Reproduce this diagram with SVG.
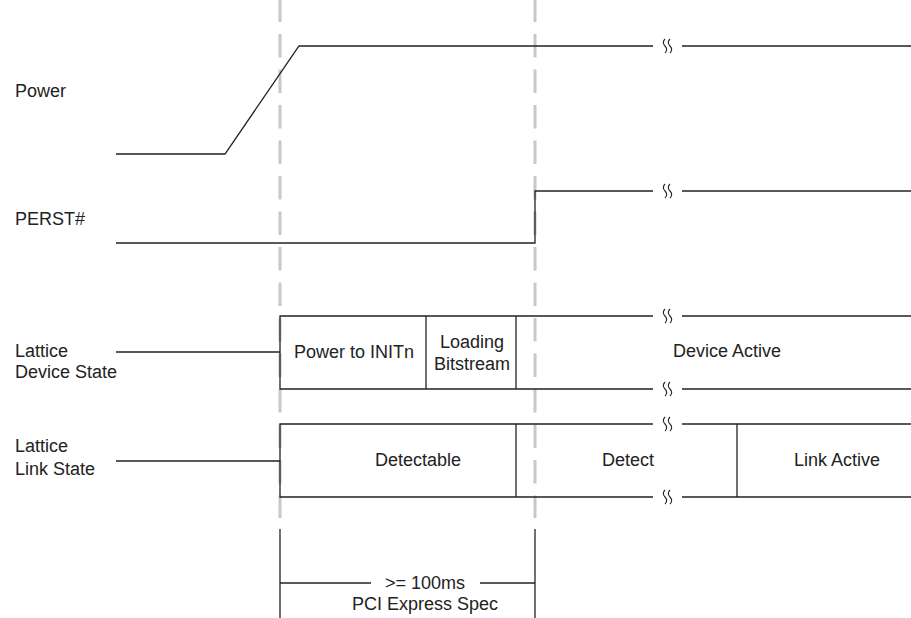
<svg xmlns="http://www.w3.org/2000/svg" width="911" height="618" viewBox="0 0 911 618">
<defs>
<style>
.ln{stroke:#222;stroke-width:1.3;fill:none}
.dash{stroke:#c8c8c8;stroke-width:3;stroke-dasharray:23.5 12;fill:none}
.sq{stroke:#222;stroke-width:1.1;fill:none}
text{font-family:"Liberation Sans",Arial,Helvetica,sans-serif;font-size:18px;fill:#222}
.c{text-anchor:middle}
</style>
<g id="brk">
<path class="sq" d="M-2.5,-7 c-2.2,2.3 -2.2,4.7 0,7 c2.2,2.3 2.2,4.7 0,7"/>
<path class="sq" d="M2.5,-7 c-2.2,2.3 -2.2,4.7 0,7 c2.2,2.3 2.2,4.7 0,7"/>
</g>
</defs>
<rect width="911" height="618" fill="#fff"/>
<g id="guides">
<line class="dash" x1="280" y1="-1.5" x2="280" y2="518"/>
<line class="dash" x1="535" y1="-1.5" x2="535" y2="518"/>
</g>
<g id="connectors">
<polyline class="ln" points="116,154 225,154 299,46 653,46"/>
<line class="ln" x1="682" y1="46" x2="911" y2="46"/>
<polyline class="ln" points="116,243 535,243 535,191 653,191"/>
<line class="ln" x1="682" y1="191" x2="911" y2="191"/>
<line class="ln" x1="116" y1="352" x2="280" y2="352"/>
<line class="ln" x1="116" y1="461" x2="280" y2="461"/>
</g>
<g id="power">
<text x="15" y="97">Power</text>
<use href="#brk" x="667.5" y="46"/>
</g>
<g id="perst">
<text x="15" y="225">PERST#</text>
<use href="#brk" x="667.5" y="191"/>
</g>
<g id="device-state">
<text x="15" y="357">Lattice</text>
<text x="15" y="378">Device State</text>
<polyline class="ln" points="653,316 280,316 280,389 653,389"/>
<line class="ln" x1="682" y1="316" x2="911" y2="316"/>
<line class="ln" x1="682" y1="389" x2="911" y2="389"/>
<line class="ln" x1="426" y1="316" x2="426" y2="389"/>
<line class="ln" x1="516" y1="316" x2="516" y2="389"/>
<use href="#brk" x="667.5" y="316"/>
<use href="#brk" x="667.5" y="389"/>
<text class="c" x="354" y="358">Power to INITn</text>
<text class="c" x="472" y="348">Loading</text>
<text class="c" x="472" y="370">Bitstream</text>
<text class="c" x="727" y="357">Device Active</text>
</g>
<g id="link-state">
<text x="15" y="452">Lattice</text>
<text x="15" y="475">Link State</text>
<polyline class="ln" points="653,424 280,424 280,497 653,497"/>
<line class="ln" x1="682" y1="424" x2="911" y2="424"/>
<line class="ln" x1="682" y1="497" x2="911" y2="497"/>
<line class="ln" x1="516" y1="424" x2="516" y2="497"/>
<line class="ln" x1="737" y1="424" x2="737" y2="497"/>
<use href="#brk" x="667.5" y="424"/>
<use href="#brk" x="667.5" y="497"/>
<text class="c" x="418" y="466">Detectable</text>
<text class="c" x="628" y="466">Detect</text>
<text class="c" x="837" y="466">Link Active</text>
</g>
<g id="timing">
<line class="ln" x1="280" y1="529" x2="280" y2="618"/>
<line class="ln" x1="535" y1="529" x2="535" y2="618"/>
<line class="ln" x1="280" y1="583" x2="371" y2="583"/>
<line class="ln" x1="480" y1="583" x2="535" y2="583"/>
<text class="c" x="425" y="589">&gt;= 100ms</text>
<text class="c" x="425" y="610">PCI Express Spec</text>
</g>
</svg>
